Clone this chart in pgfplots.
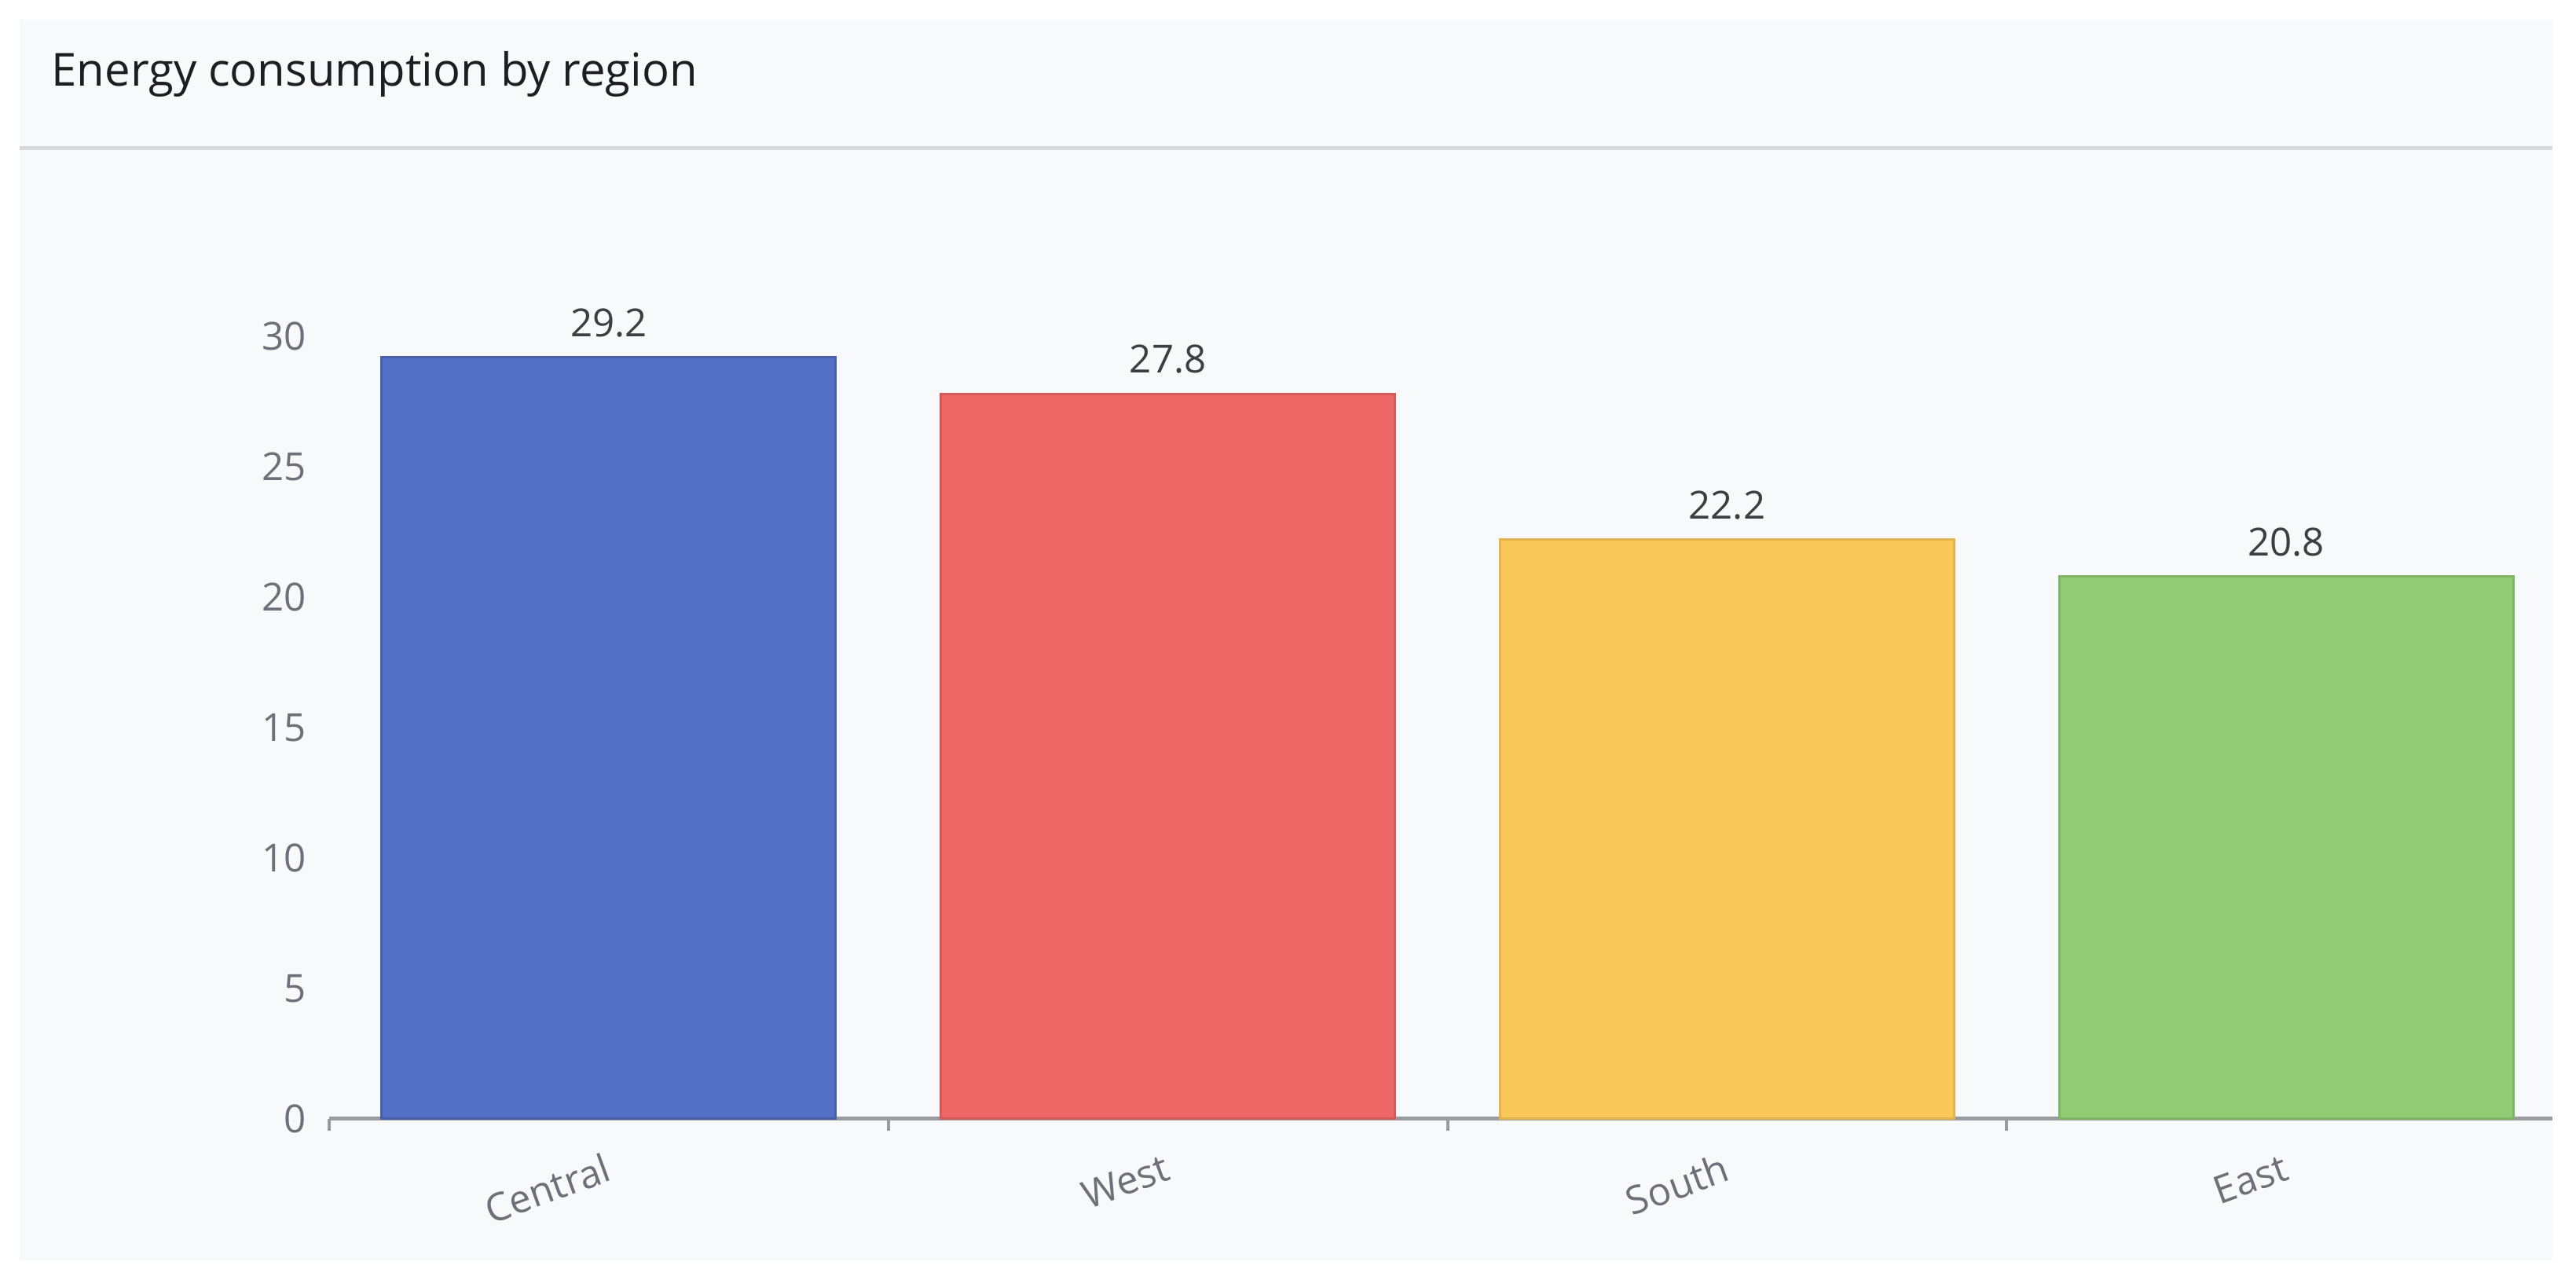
\documentclass[border=0pt]{standalone}
\usepackage{fontspec}
\setmainfont{Open Sans}
\usepackage{pgfplots}
\pgfplotsset{compat=1.18}
\definecolor{panelbg}{HTML}{F8F9FB}
\definecolor{sepline}{HTML}{D8D9DC}
\definecolor{axisgrey}{HTML}{9A9BA1}
\definecolor{labgrey}{HTML}{6E7079}
\definecolor{valgrey}{HTML}{3D3D42}
\definecolor{titleink}{HTML}{1E1E22}
\definecolor{ecblue}{HTML}{5470C6}
\definecolor{ecred}{HTML}{EE6666}
\definecolor{ecyellow}{HTML}{FAC858}
\definecolor{ecgreen}{HTML}{91CC75}

\begin{document}
\begin{tikzpicture}
% page and card background
\fill[white] (0,0) rectangle (32.79,16.29);
\fill[panelbg] (0.25,0.25) rectangle (32.49,16.04);
\draw[sepline, line width=0.05cm] (0.25,14.40) -- (32.49,14.40);
\node[anchor=base west, inner sep=0pt, text=titleink,
      font=\fontsize{16.5}{20}\selectfont] at (0.65,15.19)
  {Energy consumption by region};

\begin{axis}[
  at={(4.19cm,2.05cm)}, anchor=south west,
  scale only axis, width=28.30cm, height=9.96cm,
  xmin=-0.5, xmax=3.476, ymin=0, ymax=30,
  ybar, bar width=5.78cm, bar shift=0pt,
  axis x line*=bottom, axis y line*=left,
  x axis line style={axisgrey, line width=0.05cm, -},
  y axis line style={draw=none},
  xtick={0,1,2,3}, xticklabels={Central,West,South,East},
  minor xtick={-0.5,0.5,1.5,2.5},
  ytick={0,5,...,30},
  tick align=outside,
  major tick length=0pt, minor tick length=0.15cm,
  minor tick style={axisgrey, line width=0.04cm},
  major tick style={draw=none},
  tick label style={font=\fontsize{14}{16}\selectfont, text=labgrey},
  y tick label style={anchor=east, inner sep=0pt, xshift=-0.29cm},
  x tick label style={rotate=20, anchor=east, inner sep=0pt},
  xticklabel shift=0.6cm,
  /pgf/number format/assume math mode=true,
  nodes near coords,
  every node near coord/.append style={font=\fontsize{14}{16}\selectfont,
    text=valgrey, anchor=south, inner sep=0pt, yshift=0.24cm,
    /pgf/number format/.cd, fixed, fixed zerofill, precision=1},
  clip=false,
]
\addplot[fill=ecblue, draw=ecblue!85!black, line width=0.03cm] coordinates {(0,29.2)};
\addplot[fill=ecred, draw=ecred!88!black, line width=0.03cm] coordinates {(1,27.8)};
\addplot[fill=ecyellow, draw=ecyellow!90!black, line width=0.03cm] coordinates {(2,22.2)};
\addplot[fill=ecgreen, draw=ecgreen!88!black, line width=0.03cm] coordinates {(3,20.8)};
\end{axis}
\end{tikzpicture}
\end{document}
